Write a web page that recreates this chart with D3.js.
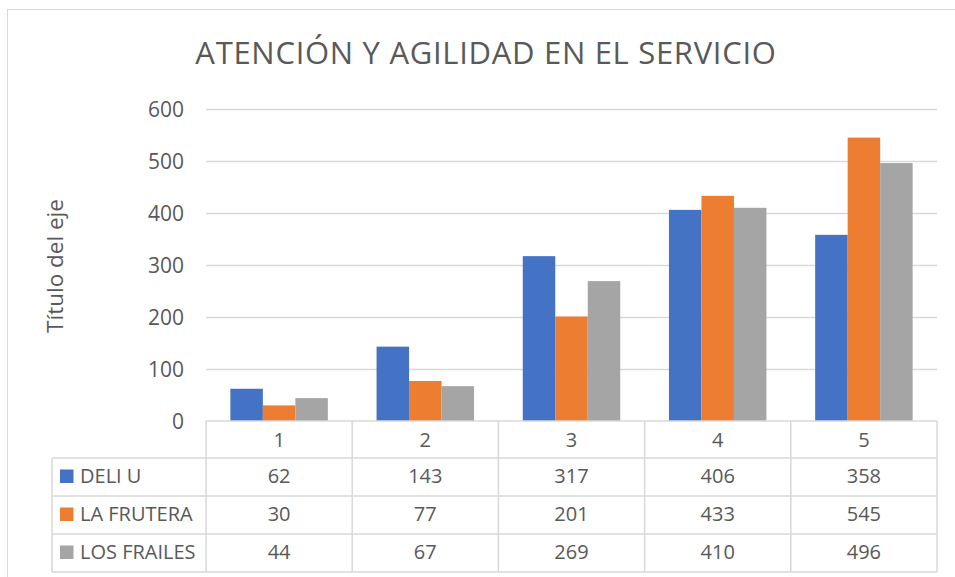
<!DOCTYPE html>
<html>
<head>
<meta charset="utf-8">
<script src="https://cdn.jsdelivr.net/npm/d3@7"></script>
<style>
  body { margin: 0; background: #fff; }
  text { font-family: "Open Sans", sans-serif; fill: #595959; }
</style>
</head>
<body>
<div id="container"></div>
<script>
const categories = ["1", "2", "3", "4", "5"];
const seriesNames = ["DELI U", "LA FRUTERA", "LOS FRAILES"];
const deliU = [62, 143, 317, 406, 358];
const laFrutera = [30, 77, 201, 433, 545];
const losFrailes = [44, 67, 269, 410, 496];
const yTicks = [0, 100, 200, 300, 400, 500, 600];
const colors = ["#4472C4", "#ED7D31", "#A5A5A5"];

const series = [deliU, laFrutera, losFrailes];

const w = 955;
const h = 577;

const svg = d3.select("#container")
              .append("svg")
              .attr("width", w)
              .attr("height", h);

// chart frame
svg.append("rect")
   .attr("x", 7.5)
   .attr("y", 9.5)
   .attr("width", w)
   .attr("height", h)
   .attr("fill", "none")
   .attr("stroke", "#d9d9d9");

const plot = { left: 206, right: 937, top: 109, bottom: 421 };

const x = d3.scaleBand()
            .domain(categories)
            .range([plot.left, plot.right]);

const xInner = d3.scaleBand()
                 .domain(d3.range(series.length))
                 .range([0, x.bandwidth()])
                 .paddingInner(0)
                 .paddingOuter(0.75);

const y = d3.scaleLinear()
            .domain([0, 600])
            .range([plot.bottom, plot.top]);

// gridlines
svg.append("g")
   .selectAll("line")
   .data(yTicks.slice(1))
   .enter()
   .append("line")
   .attr("x1", plot.left)
   .attr("x2", plot.right)
   .attr("y1", d => Math.round(y(d)) + 0.5)
   .attr("y2", d => Math.round(y(d)) + 0.5)
   .attr("stroke", "#d9d9d9")
   .attr("stroke-width", 1.5);

// y tick labels
svg.append("g")
   .selectAll("text")
   .data(yTicks)
   .enter()
   .append("text")
   .attr("x", 184)
   .attr("y", d => y(d) + 7.5)
   .attr("text-anchor", "end")
   .style("font-size", "21px")
   .text(d => d);

// bars
const groups = svg.append("g")
                  .selectAll("g")
                  .data(series)
                  .enter()
                  .append("g")
                  .attr("fill", (d, i) => colors[i]);

groups.selectAll("rect")
      .data((d, si) => d.map((v, ci) => ({ v, ci, si })))
      .enter()
      .append("rect")
      .attr("x", d => x(categories[d.ci]) + xInner(d.si))
      .attr("width", xInner.bandwidth())
      .attr("y", d => y(d.v))
      .attr("height", d => y(0) - y(d.v));

// data table
const rowH = 38;
const headerTop = plot.bottom;
const headerBottom = 458;
const tableLeft = 52;
const rowTops = seriesNames.map((s, i) => headerBottom + i * rowH);
const tableBottom = headerBottom + seriesNames.length * rowH;

const table = svg.append("g")
                 .attr("stroke", "#d9d9d9")
                 .attr("stroke-width", 1.5);

table.append("line")
     .attr("x1", plot.left).attr("x2", plot.right)
     .attr("y1", headerTop).attr("y2", headerTop);

table.selectAll("line.row")
     .data(rowTops.concat([tableBottom]))
     .enter()
     .append("line")
     .attr("class", "row")
     .attr("x1", tableLeft).attr("x2", plot.right)
     .attr("y1", d => d).attr("y2", d => d);

const colEdges = categories.map(c => x(c)).concat([plot.right]);
table.selectAll("line.col")
     .data(colEdges)
     .enter()
     .append("line")
     .attr("class", "col")
     .attr("x1", d => d).attr("x2", d => d)
     .attr("y1", headerTop).attr("y2", tableBottom);

table.append("line")
     .attr("x1", tableLeft).attr("x2", tableLeft)
     .attr("y1", headerBottom).attr("y2", tableBottom);

// header labels
svg.append("g")
   .selectAll("text")
   .data(categories)
   .enter()
   .append("text")
   .attr("x", d => x(d) + x.bandwidth() / 2)
   .attr("y", headerTop + 26)
   .attr("text-anchor", "middle")
   .style("font-size", "20px")
   .text(d => d);

// row labels with legend keys
const rows = svg.append("g")
                .selectAll("g")
                .data(seriesNames)
                .enter()
                .append("g")
                .attr("transform", (d, i) => "translate(0," + rowTops[i] + ")");

rows.append("rect")
    .attr("x", 60)
    .attr("y", 11.5)
    .attr("width", 13.5)
    .attr("height", 13.5)
    .attr("fill", (d, i) => colors[i]);

rows.append("text")
    .attr("x", 80)
    .attr("y", 25)
    .style("font-size", "20px")
    .text(d => d);

rows.selectAll("text.val")
    .data((d, i) => series[i])
    .enter()
    .append("text")
    .attr("class", "val")
    .attr("x", (d, i) => x(categories[i]) + x.bandwidth() / 2)
    .attr("y", 25)
    .attr("text-anchor", "middle")
    .style("font-size", "20px")
    .text(d => d);

// title
svg.append("text")
   .attr("x", 486)
   .attr("y", 64)
   .attr("text-anchor", "middle")
   .style("font-size", "31px")
   .style("letter-spacing", "0.7px")
   .text("ATENCIÓN Y AGILIDAD EN EL SERVICIO");

// axis title
svg.append("text")
   .attr("transform", "translate(63,266) rotate(-90)")
   .attr("text-anchor", "middle")
   .style("font-size", "22.5px")
   .text("Título del eje");
</script>
</body>
</html>
